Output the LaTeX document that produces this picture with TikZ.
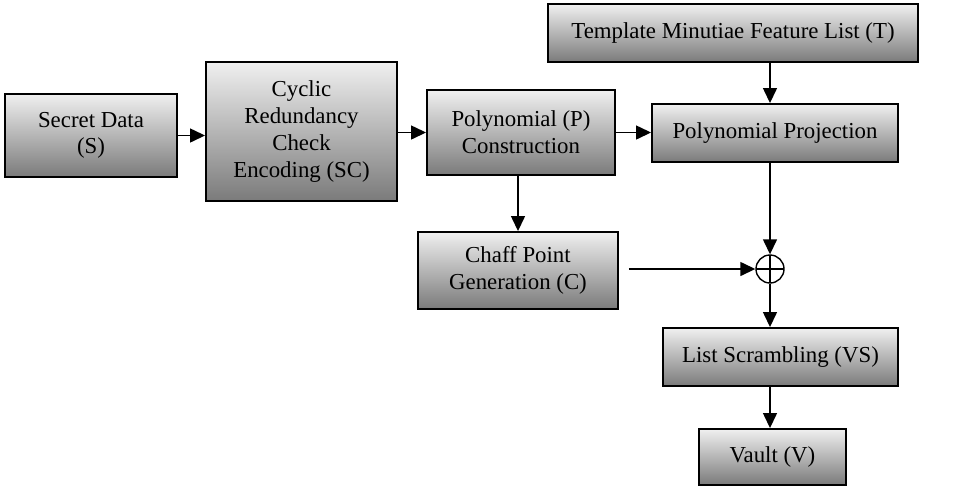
\documentclass[tikz,border=0pt]{standalone}
\usepackage{fontspec}
\setmainfont{Liberation Serif}
\usetikzlibrary{arrows.meta}

\begin{document}
\begin{tikzpicture}[font=\fontsize{13}{15.2}\selectfont,
    block/.style={rectangle, draw, line width=1.1pt, top color=white!94!black, bottom color=black!52, inner sep=0pt, align=center},
    sumnode/.style={circle, draw, line width=0.8pt, minimum size=0.56cm, inner sep=0pt,
        path picture={\draw[line width=0.8pt] (path picture bounding box.north) -- (path picture bounding box.south)
            (path picture bounding box.west) -- (path picture bounding box.east);}},
    arrow/.style={-{Triangle[length=0.3cm, width=0.28cm]}, line width=0.8pt}
]
\useasboundingbox (0,0) rectangle (19.2,-9.72);

% Nodes
\node[block, minimum width=3.44cm, minimum height=1.66cm] (secret) at (1.82,-2.71) {Secret Data \\ (S)};
\node[block, minimum width=3.82cm, minimum height=2.78cm] (crc) at (6.03,-2.63) {Cyclic \\ Redundancy \\ Check \\ Encoding (SC)};
\node[block, minimum width=3.76cm, minimum height=1.70cm] (poly) at (10.42,-2.65) {Polynomial (P) \\ Construction};
\node[block, minimum width=4.92cm, minimum height=1.16cm] (proj) at (15.50,-2.66) {Polynomial Projection};
\node[block, minimum width=7.40cm, minimum height=1.16cm] (templ) at (14.66,-0.66) {Template Minutiae Feature List (T)};
\node[block, minimum width=4.00cm, minimum height=1.54cm] (chaff) at (10.36,-5.41) {Chaff Point \\ Generation (C)};
\node[sumnode] (sum) at (15.40,-5.38) {};
\node[block, minimum width=4.70cm, minimum height=1.16cm] (scramble) at (15.61,-7.14) {List Scrambling (VS)};
\node[block, minimum width=2.94cm, minimum height=1.12cm] (vault) at (15.45,-9.14) {Vault (V)};

% Arrows
\draw[arrow] (secret.east) -- (secret.east -| crc.west);
\draw[arrow] (crc.east |- poly.west) -- (poly.west);
\draw[arrow] (poly.east) -- (poly.east -| proj.west);
\draw[arrow] (sum |- templ.south) -- (sum |- proj.north);
\draw[arrow] (poly.south -| chaff.north) -- (chaff.north);
\draw[arrow] (sum |- proj.south) -- (sum.north);
\draw[arrow] ([xshift=0.2cm]chaff.east |- sum.west) -- (sum.west);
\draw[arrow] (sum.south) -- (sum |- scramble.north);
\draw[arrow] (sum |- scramble.south) -- (sum |- vault.north);

\end{tikzpicture}
\end{document}
